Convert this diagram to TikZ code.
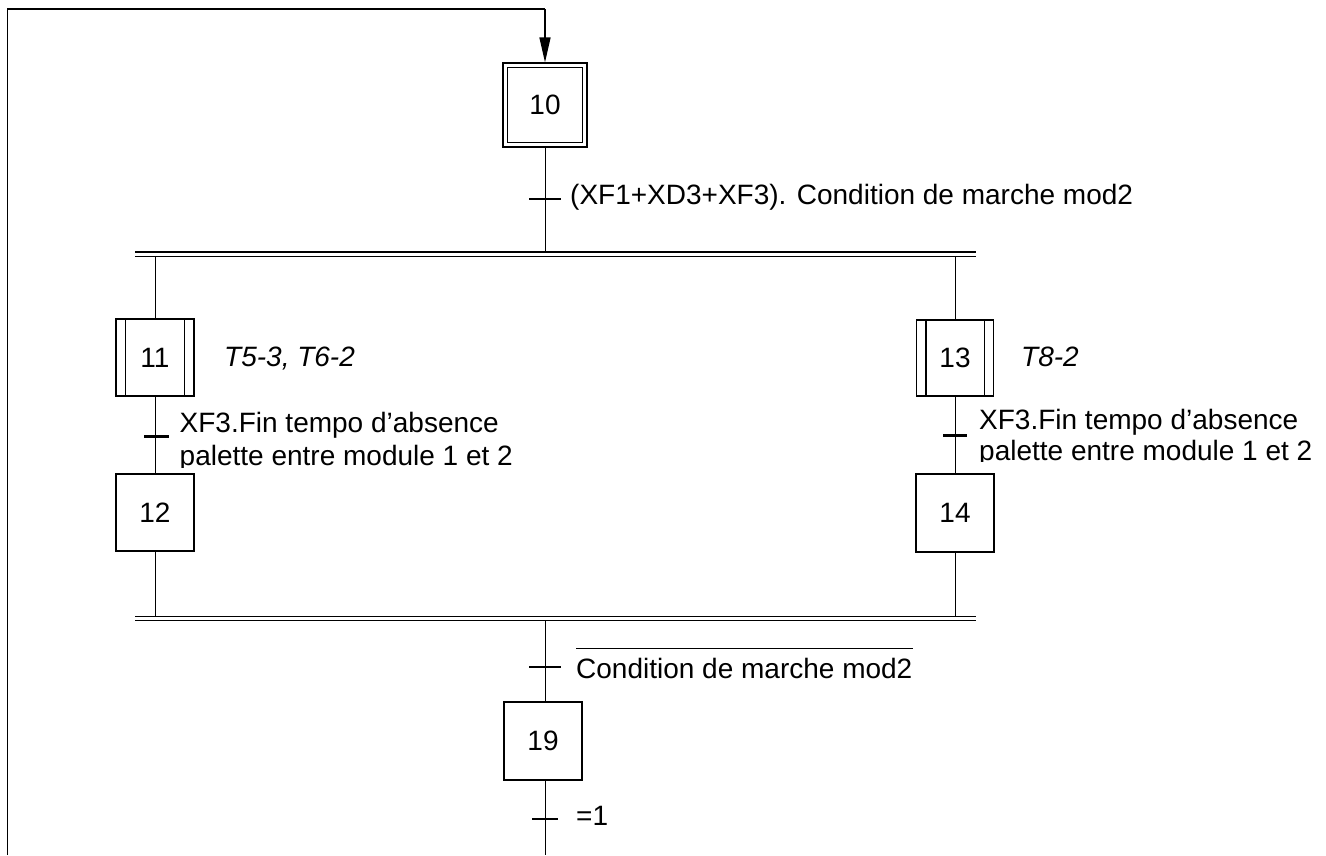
\documentclass[tikz,border=0pt]{standalone}
\usepackage{fontspec}
\setmainfont{Liberation Sans}
\usetikzlibrary{arrows.meta}
\begin{document}
\begin{tikzpicture}[x=1pt,y=-1pt,
  every node/.style={inner sep=0pt, font=\fontsize{28}{32}\selectfont},
  stepbox/.style={draw, line width=1.2pt, minimum width=78pt, minimum height=78pt},
  conn/.style={line width=1pt},
  loopline/.style={line width=1.4pt},
  tick/.style={line width=2.4pt},
  bar/.style={line width=1.5pt},
  lbl/.style={anchor=base west},
  act/.style={anchor=base west, font=\fontsize{28}{32}\selectfont\itshape}
]
\useasboundingbox (0,0) rectangle (1326,855);
\fill[white] (0,0) rectangle (1326,855);

% steps
\node[stepbox, minimum width=84pt, minimum height=84pt] (s10) at (545,105) {10};
\draw[line width=1.2pt] ([shift={(5pt,-5pt)}]s10.north west) rectangle ([shift={(-5pt,5pt)}]s10.south east);
\node[stepbox, minimum height=77pt] (s11) at (155,357.5) {11};
\node[stepbox, minimum width=77pt, minimum height=76pt] (s13) at (955,358) {13};
\node[stepbox, minimum height=77pt] (s12) at (155,512.5) {12};
\node[stepbox] (s14) at (955,513) {14};
\node[stepbox] (s19) at (543,741) {19};
\foreach \s in {s11,s13}{
  \draw[line width=1.2pt] ([xshift=10pt]\s.north west) -- ([xshift=10pt]\s.south west);
  \draw[line width=1.2pt] ([xshift=-10pt]\s.north east) -- ([xshift=-10pt]\s.south east);
}

% coordinates
\coordinate (tl) at (7.5,9);
\coordinate (bl) at (7.5,855);
\coordinate (ta) at (545,9);
\coordinate (b1la) at (135,252.2);
\coordinate (b1ra) at (976,252.2);
\coordinate (b1lb) at (135,256.6);
\coordinate (b1rb) at (976,256.6);
\coordinate (b2la) at (135,616.7);
\coordinate (b2ra) at (976,616.7);
\coordinate (b2lb) at (135,620.7);
\coordinate (b2rb) at (976,620.7);
\coordinate (j1) at (545,252.2);
\coordinate (j2) at (155,256.6);
\coordinate (j3) at (955,256.6);
\coordinate (j4) at (155,616.7);
\coordinate (j5) at (955,616.7);
\coordinate (j6) at (545,620.7);
\coordinate (bot) at (545,855);

% loop and arrow
\draw[loopline] (bl) -- (tl) -- (ta);
\draw[loopline, -{Triangle[length=25pt,width=11pt]}] (ta) -- (s10.north);

% bars
\draw[bar] (b1la) -- (b1ra);
\draw[bar] (b1lb) -- (b1rb);
\draw[bar] (b2la) -- (b2ra);
\draw[bar] (b2lb) -- (b2rb);

% connectors
\draw[conn] (s10.south) -- (j1);
\draw[conn] (j2) -- (s11.north);
\draw[conn] (j3) -- (s13.north);
\draw[conn] (s11.south) -- (s12.north);
\draw[conn] (s13.south) -- (s14.north);
\draw[conn] (s12.south) -- (j4);
\draw[conn] (s14.south) -- (j5);
\draw[conn] (j6) -- (j6 |- s19.north);
\draw[conn] (j6 |- s19.south) -- (bot);

% transition ticks
\draw[tick] (529,199) -- (561,199);
\draw[tick] (144,436.5) -- (169,436.5);
\draw[tick] (943,435.5) -- (967,435.5);
\draw[tick] (529,667) -- (561,667);
\draw[tick] (532,819) -- (558,819);

% texts
\node[lbl] (c1) at (570,204.5) {(XF1+XD3+XF3). Condition de marche mod2};
\node[act] (a11) at (224,366) {T5-3, T6-2};
\node[act] (a13) at (1021,366) {T8-2};
\node[lbl] (c2a) at (179.5,432.5) {XF3.Fin tempo d’absence};
\begin{scope}
  \clip (0,0) rectangle (1326,467);
  \node[lbl] (c2b) at (179.5,465.5) {palette entre module 1 et 2};
\end{scope}
\node[lbl] (c3a) at (979,429.5) {XF3.Fin tempo d’absence};
\begin{scope}
  \clip (0,0) rectangle (1326,461);
  \node[lbl] (c3b) at (979,460.5) {palette entre module 1 et 2};
\end{scope}
\node[lbl] (c4) at (576,678) {Condition de marche mod2};
\draw[conn] ([yshift=9pt]c4.north west) -- ([yshift=9pt]c4.north east);
\node[lbl] (c5) at (576,825) {=1};
\end{tikzpicture}
\end{document}
